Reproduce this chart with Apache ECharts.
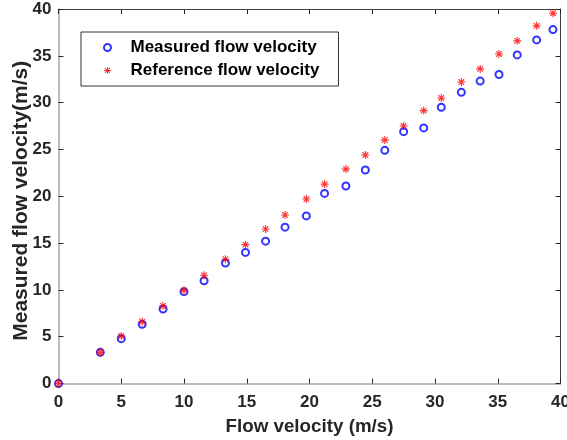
<!DOCTYPE html>
<html>
<head>
<meta charset="utf-8">
<script src="https://cdn.jsdelivr.net/npm/echarts@6/dist/echarts.min.js"></script>
<style>
  html, body { margin: 0; padding: 0; background: #fff; }
  #chart { width: 567px; height: 440px; }
</style>
</head>
<body>
<div id="chart"></div>
<script>
// flow velocity set points (x)
const flowVelocity = [0, 3.33, 5.0, 6.67, 8.33, 10.0, 11.6, 13.3, 14.9, 16.5, 18.05, 19.75, 21.2,
  22.9, 24.45, 26.0, 27.5, 29.1, 30.5, 32.1, 33.6, 35.1, 36.55, 38.1, 39.4]
// measured values (blue circles)
const measured = [0, 3.33, 4.79, 6.32, 7.96, 9.81, 10.98, 12.87, 14.0, 15.2, 16.7, 17.9, 20.3,
  21.1, 22.8, 24.9, 26.9, 27.3, 29.5, 31.1, 32.3, 33.0, 35.1, 36.7, 37.8]
// reference values (red stars)
const reference = [0, 3.33, 5.07, 6.6, 8.28, 9.95, 11.56, 13.27, 14.83, 16.5, 18.0, 19.7, 21.3,
  22.9, 24.4, 26.0, 27.5, 29.15, 30.5, 32.2, 33.6, 35.2, 36.6, 38.2, 39.55]

const FONT = '"Liberation Sans", Arial, sans-serif'
const TEXT = '#262626'

// matlab style '*' marker
const star = 'path://M4.3 0L5.7 0L5.7 10L4.3 10Z M0 4.3L10 4.3L10 5.7L0 5.7Z ' +
  'M1 2L2 1L9 8L8 9Z M8 1L9 2L2 9L1 8Z'

const pair = (xs, ys) => xs.map((x, i) => [x, ys[i]])

const chart = echarts.init(document.getElementById('chart'), null, { renderer: 'canvas' })

const mainAxis = (name, gap, margin, nameSize) => ({
  type: 'value',
  min: 0,
  max: 40,
  interval: 5,
  name: name,
  nameLocation: 'middle',
  nameGap: gap,
  nameMoveOverlap: false,
  nameTextStyle: { fontFamily: FONT, fontWeight: 'bold', fontSize: nameSize, color: TEXT },
  axisLine: { show: true, onZero: false, lineStyle: { color: '#a6a6a6', width: 1.5 } },
  axisTick: { show: true, inside: true, length: 5, lineStyle: { color: TEXT } },
  axisLabel: { fontFamily: FONT, fontWeight: 'bold', fontSize: 17, color: TEXT, margin: margin },
  splitLine: { show: false }
})

// top / right edges of the box
const boxAxis = position => ({
  type: 'value',
  position: position,
  min: 0,
  max: 40,
  interval: 5,
  axisLine: { show: true, onZero: false, lineStyle: { color: '#404040', width: 1 } },
  axisTick: { show: true, inside: true, length: 5, lineStyle: { color: TEXT } },
  axisLabel: { show: false },
  splitLine: { show: false }
})

const xMain = mainAxis('Flow velocity (m/s)', 34, 10, 18.8)
const yMain = mainAxis('Measured flow velocity(m/s)', 27, 7, 21)
yMain.nameTextStyle.padding = [0, 9, 0, 0]

chart.setOption({
  animation: false,
  backgroundColor: '#fff',
  grid: {
    left: 58.5, right: 6.5, top: 9, bottom: 56.5,
    containLabel: false, outerBoundsMode: 'none'
  },
  xAxis: [xMain, boxAxis('top')],
  yAxis: [yMain, boxAxis('right')],
  legend: {
    orient: 'vertical',
    left: 81,
    top: 32,
    padding: [7, 19, 7, 22],
    itemGap: 6,
    itemWidth: 8,
    itemHeight: 7,
    borderColor: '#333',
    borderWidth: 1,
    backgroundColor: '#fff',
    textStyle: {
      fontFamily: FONT, fontWeight: 'bold', fontSize: 17, color: '#000',
      lineHeight: 17, padding: [0, 0, 0, 14]
    },
    data: ['Measured flow velocity', 'Reference flow velocity']
  },
  series: [
    {
      name: 'Measured flow velocity',
      type: 'scatter',
      symbol: 'emptyCircle',
      symbolSize: 7,
      itemStyle: { color: '#0000ff', borderColor: '#0000ff', borderWidth: 1 },
      data: pair(flowVelocity, measured)
    },
    {
      name: 'Reference flow velocity',
      type: 'scatter',
      symbol: star,
      symbolSize: 8,
      itemStyle: { color: '#ff0000' },
      data: pair(flowVelocity, reference)
    }
  ]
})
</script>
</body>
</html>
